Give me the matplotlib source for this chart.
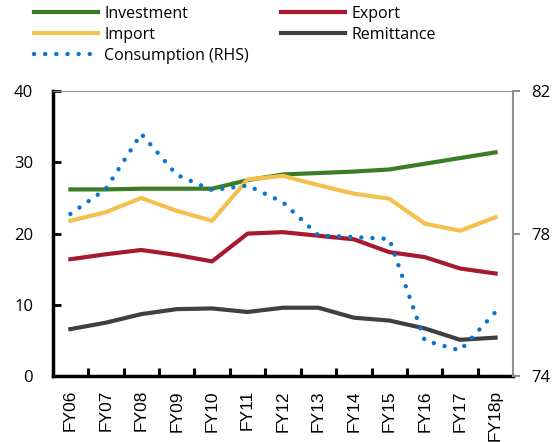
import matplotlib
matplotlib.use("Agg")
import matplotlib.pyplot as plt
import numpy as np

plt.rcParams['font.family'] = ['Open Sans', 'DejaVu Sans']

# datos
anios = ['FY06', 'FY07', 'FY08', 'FY09', 'FY10', 'FY11', 'FY12',
         'FY13', 'FY14', 'FY15', 'FY16', 'FY17', 'FY18p']
inversion = [26.2, 26.2, 26.3, 26.3, 26.3, 27.5, 28.3, 28.5, 28.7, 29.0, 29.8, 30.6, 31.4]
exportacion = [16.4, 17.1, 17.7, 17.0, 16.1, 20.0, 20.2, 19.7, 19.2, 17.4, 16.7, 15.1, 14.4]
importacion = [21.8, 23.0, 25.0, 23.2, 21.8, 27.6, 28.1, 26.8, 25.6, 24.9, 21.4, 20.4, 22.3]
remesas = [6.6, 7.5, 8.7, 9.4, 9.5, 9.0, 9.6, 9.6, 8.2, 7.8, 6.7, 5.1, 5.4]
consumo = [78.55, 79.25, 80.8, 79.65, 79.22, 79.35, 78.88, 77.95, 77.9, 77.85, 75.0, 74.72, 75.8]

x = np.arange(len(anios))

fig = plt.figure(figsize=(5.6, 4.42), dpi=100)
ax = fig.add_axes([0.094, 0.149, 0.8226, 0.645])
ax2 = ax.twinx()

lw = 3
l1, = ax.plot(x, inversion, color='#3B7D23', lw=lw, label='Investment')
l2, = ax.plot(x, exportacion, color='#A6192E', lw=lw, label='Export')
l3, = ax.plot(x, importacion, color='#F2C14E', lw=lw, label='Import')
l4, = ax.plot(x, remesas, color='#404040', lw=lw, label='Remittance')
l5, = ax2.plot(x, consumo, color='#0A74D0', lw=3.2, linestyle=(0, (0.01, 2.5)),
               dash_capstyle='round', label='Consumption (RHS)')

ax.set_xlim(-0.5, len(anios) - 0.5)
ax.set_ylim(0, 40)
ax.set_yticks([0, 10, 20, 30, 40])
ax2.set_ylim(74, 82)
ax2.set_yticks([74, 78, 82])

ax.set_xticks(x)
ax.set_xticklabels(anios, rotation=90, fontsize=12.5, family=['Liberation Sans', 'DejaVu Sans'])
ax.set_xticks(np.arange(0.5, len(anios) - 0.5, 1), minor=True)
ax.tick_params(axis='x', which='major', length=0, pad=10)
ax.tick_params(axis='x', which='minor', direction='in', length=6, width=2.2, color='black')
ax.tick_params(axis='y', direction='in', length=6, width=2, pad=14, labelsize=12)
ax2.tick_params(axis='y', direction='out', length=5, width=1.5, color='#909090', pad=8, labelsize=12)

for s in ['left', 'bottom']:
    ax.spines[s].set_linewidth(2.5)
    ax.spines[s].set_color('black')
ax.spines['top'].set_color('#909090')
ax.spines['top'].set_linewidth(0.8)
ax.spines['right'].set_visible(False)
ax2.spines['left'].set_visible(False)
ax2.spines['bottom'].set_visible(False)
ax2.spines['top'].set_visible(False)
ax2.spines['right'].set_color('#909090')
ax2.spines['right'].set_linewidth(1.5)

# leyenda: columnas se llenan de arriba a abajo
fig.legend(handles=[l1, l3, l5, l2, l4], ncol=2, loc='upper left',
           bbox_to_anchor=(0.035, 1.02), frameon=False, fontsize=11.5,
           handlelength=4.0, handletextpad=0.4, columnspacing=2.0,
           labelspacing=0.32)

fig.savefig('out.png', dpi=100)
